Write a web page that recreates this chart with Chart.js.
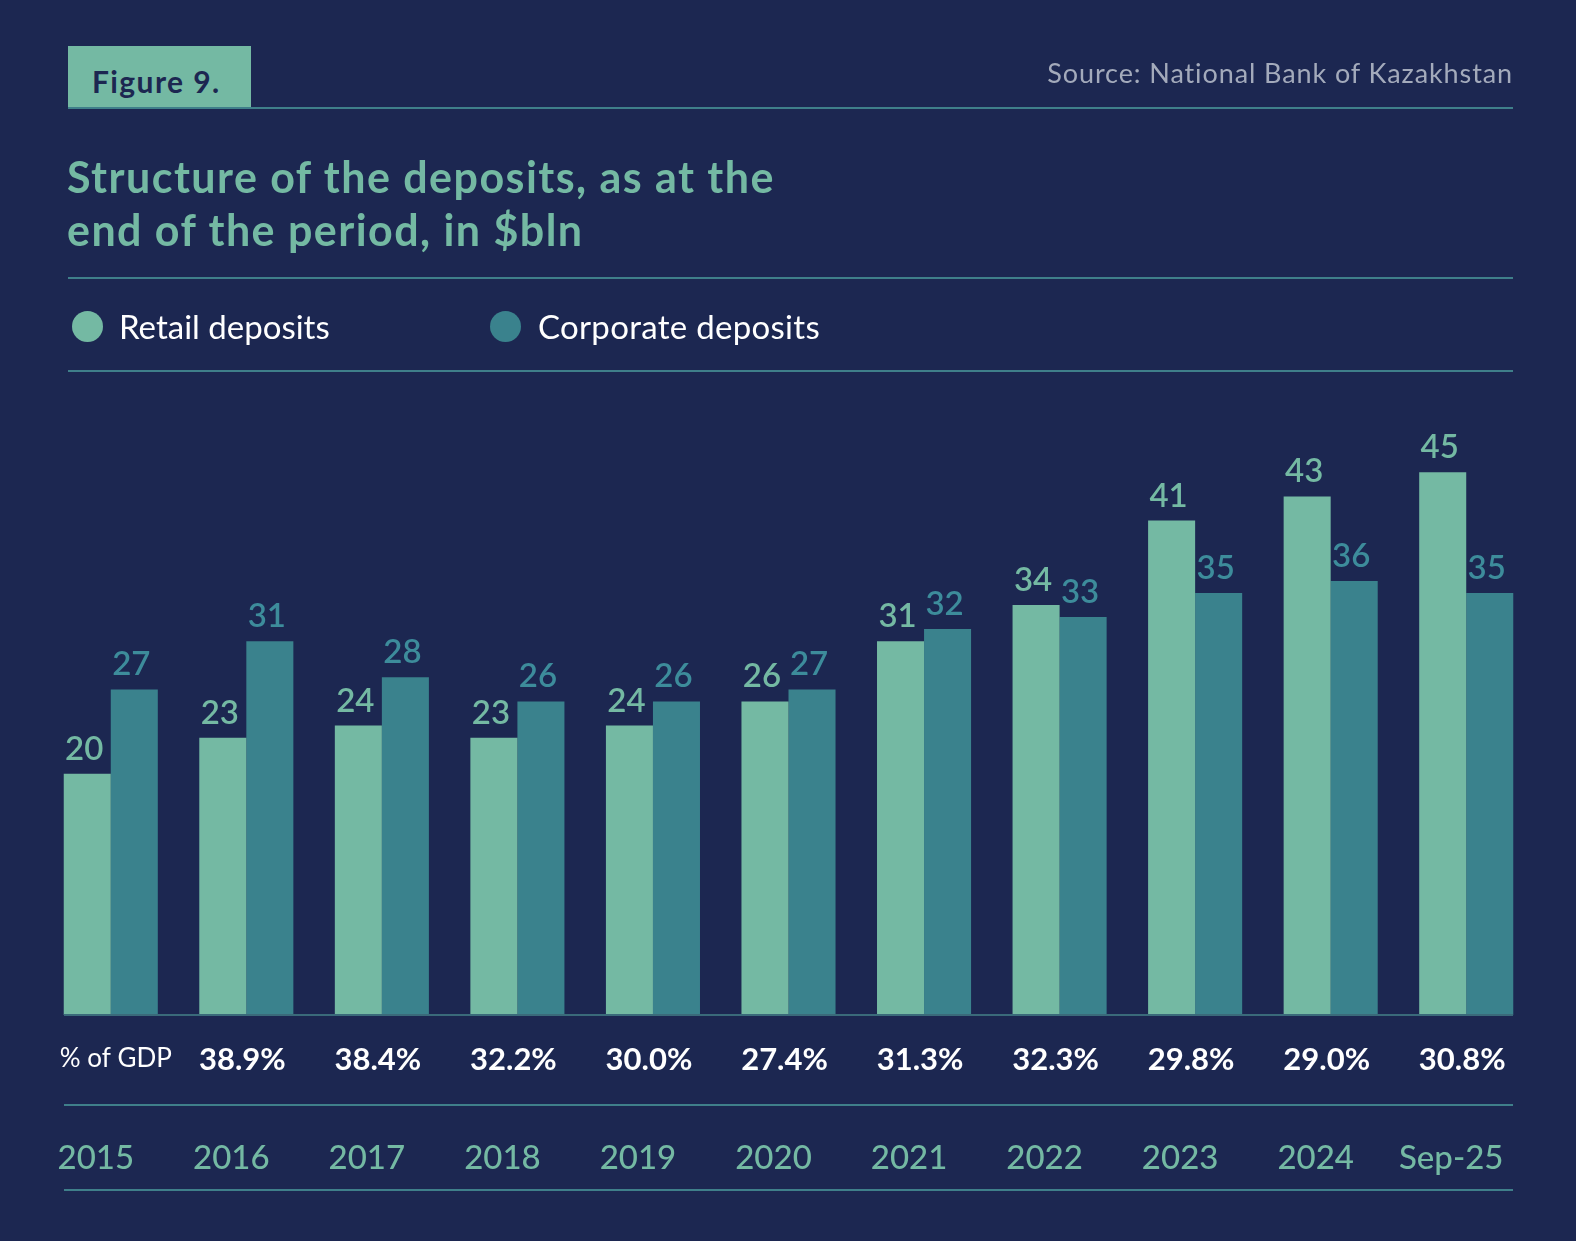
<!DOCTYPE html>
<html>
<head>
<meta charset="utf-8">
<script src="https://cdn.jsdelivr.net/npm/chart.js@4.4.1/dist/chart.umd.min.js"></script>
<style>
  html, body { margin: 0; padding: 0; background: #1c2751; }
  body { width: 1576px; height: 1241px; position: relative; overflow: hidden; font-family: Lato, "Open Sans", sans-serif; }
  #wrap { position: absolute; left: 0; top: 0; width: 1576px; height: 1241px; }
  .abs { position: absolute; }
  .hline { position: absolute; height: 2px; background: #3f7f8a; }
  #figbox { left: 68px; top: 46px; width: 183px; height: 62px; background: #74b9a3; color: #1c2751; font-weight: 700; font-size: 30px; line-height: 62px; box-sizing: border-box; padding-left: 24px; padding-top: 4px; letter-spacing: 1.4px; }
  #source { right: 63px; top: 56px; color: #a3aabb; font-size: 27px; letter-spacing: 0.9px; }
  #title { left: 67px; top: 150px; color: #74b9a3; font-weight: 700; font-size: 43px; line-height: 53px; letter-spacing: 1.45px; }
  .dot { position: absolute; width: 31px; height: 31px; border-radius: 50%; }
  .leg { position: absolute; color: #ffffff; font-size: 33px; top: 306px; }
</style>
</head>
<body>
<div id="wrap"><canvas id="c" width="1576" height="1241"></canvas></div>
<div id="figbox" class="abs">Figure 9.</div>
<div id="source" class="abs">Source: National Bank of Kazakhstan</div>
<div class="hline" style="left:68px; top:107px; width:1445px;"></div>
<div id="title" class="abs">Structure of the deposits, as at the<br>end of the period, in $bln</div>
<div class="hline" style="left:68px; top:277px; width:1445px;"></div>
<div class="dot" style="left:72px; top:311px; background:#74b9a3;"></div>
<div class="leg" style="left:119px;">Retail deposits</div>
<div class="dot" style="left:490px; top:311px; background:#3a828d;"></div>
<div class="leg" style="left:538px; letter-spacing:0.3px;">Corporate deposits</div>
<div class="hline" style="left:68px; top:370px; width:1445px;"></div>
<div class="hline" style="left:64px; top:1014px; width:1449px; background:#3a6a7a;"></div>
<div class="hline" style="left:64px; top:1104px; width:1449px;"></div>
<div class="hline" style="left:64px; top:1189px; width:1449px;"></div>
<script>
const categories = ["2015", "2016", "2017", "2018", "2019", "2020", "2021", "2022", "2023", "2024", "Sep-25"];
const retailDeposits = [20, 23, 24, 23, 24, 26, 31, 34, 41, 43, 45];
const corporateDeposits = [27, 31, 28, 26, 26, 27, 32, 33, 35, 36, 35];
const gdpLabels = ["% of GDP", "38.9%", "38.4%", "32.2%", "30.0%", "27.4%", "31.3%", "32.3%", "29.8%", "29.0%", "30.8%"];

const retailColor = "#74b9a3";
const corpColor = "#3a828d";
const corpLabelColor = "#3d8c9b";

const labelPlugin = {
  id: "labels",
  afterDatasetsDraw(chart) {
    const ctx = chart.ctx;
    ctx.save();
    ctx.textAlign = "center";
    ctx.textBaseline = "alphabetic";
    ctx.font = "600 33px Lato, 'Open Sans', sans-serif";
    chart.data.datasets.forEach((ds, di) => {
      const meta = chart.getDatasetMeta(di);
      ctx.fillStyle = di === 0 ? retailColor : corpLabelColor;
      meta.data.forEach((bar, i) => {
        ctx.fillText(String(ds.data[i]), bar.x - 3, bar.y - 14);
      });
    });
    const xs = chart.scales.x;
    categories.forEach((cat, i) => {
      const cx = xs.getPixelForValue(i);
      const g = gdpLabels[i];
      if (i === 0) {
        ctx.font = "400 26px Lato, 'Open Sans', sans-serif";
        ctx.fillStyle = "#ffffff";
        ctx.fillText(g, cx + 5, 1067);
      } else {
        ctx.font = "700 31px Lato, 'Open Sans', sans-serif";
        ctx.fillStyle = "#ffffff";
        ctx.fillText(g, cx - 4, 1070);
      }
      ctx.font = "500 33px Lato, 'Open Sans', sans-serif";
      ctx.fillStyle = retailColor;
      ctx.fillText(cat, cx - 15, 1169);
    });
    ctx.restore();
  }
};

new Chart(document.getElementById("c"), {
  type: "bar",
  data: {
    labels: categories,
    datasets: [
      { label: "Retail deposits", data: retailDeposits, backgroundColor: retailColor, borderWidth: 0 },
      { label: "Corporate deposits", data: corporateDeposits, backgroundColor: corpColor, borderWidth: 0 }
    ]
  },
  options: {
    responsive: false,
    animation: false,
    devicePixelRatio: 1,
    layout: { padding: { left: 43, right: 42, top: 400, bottom: 226 } },
    datasets: { bar: { categoryPercentage: 0.694, barPercentage: 1.0 } },
    scales: {
      x: { display: false, offset: true },
      y: { display: false, min: 0, max: 51 }
    },
    plugins: { legend: { display: false }, tooltip: { enabled: false } }
  },
  plugins: [labelPlugin]
});
</script>
</body>
</html>
